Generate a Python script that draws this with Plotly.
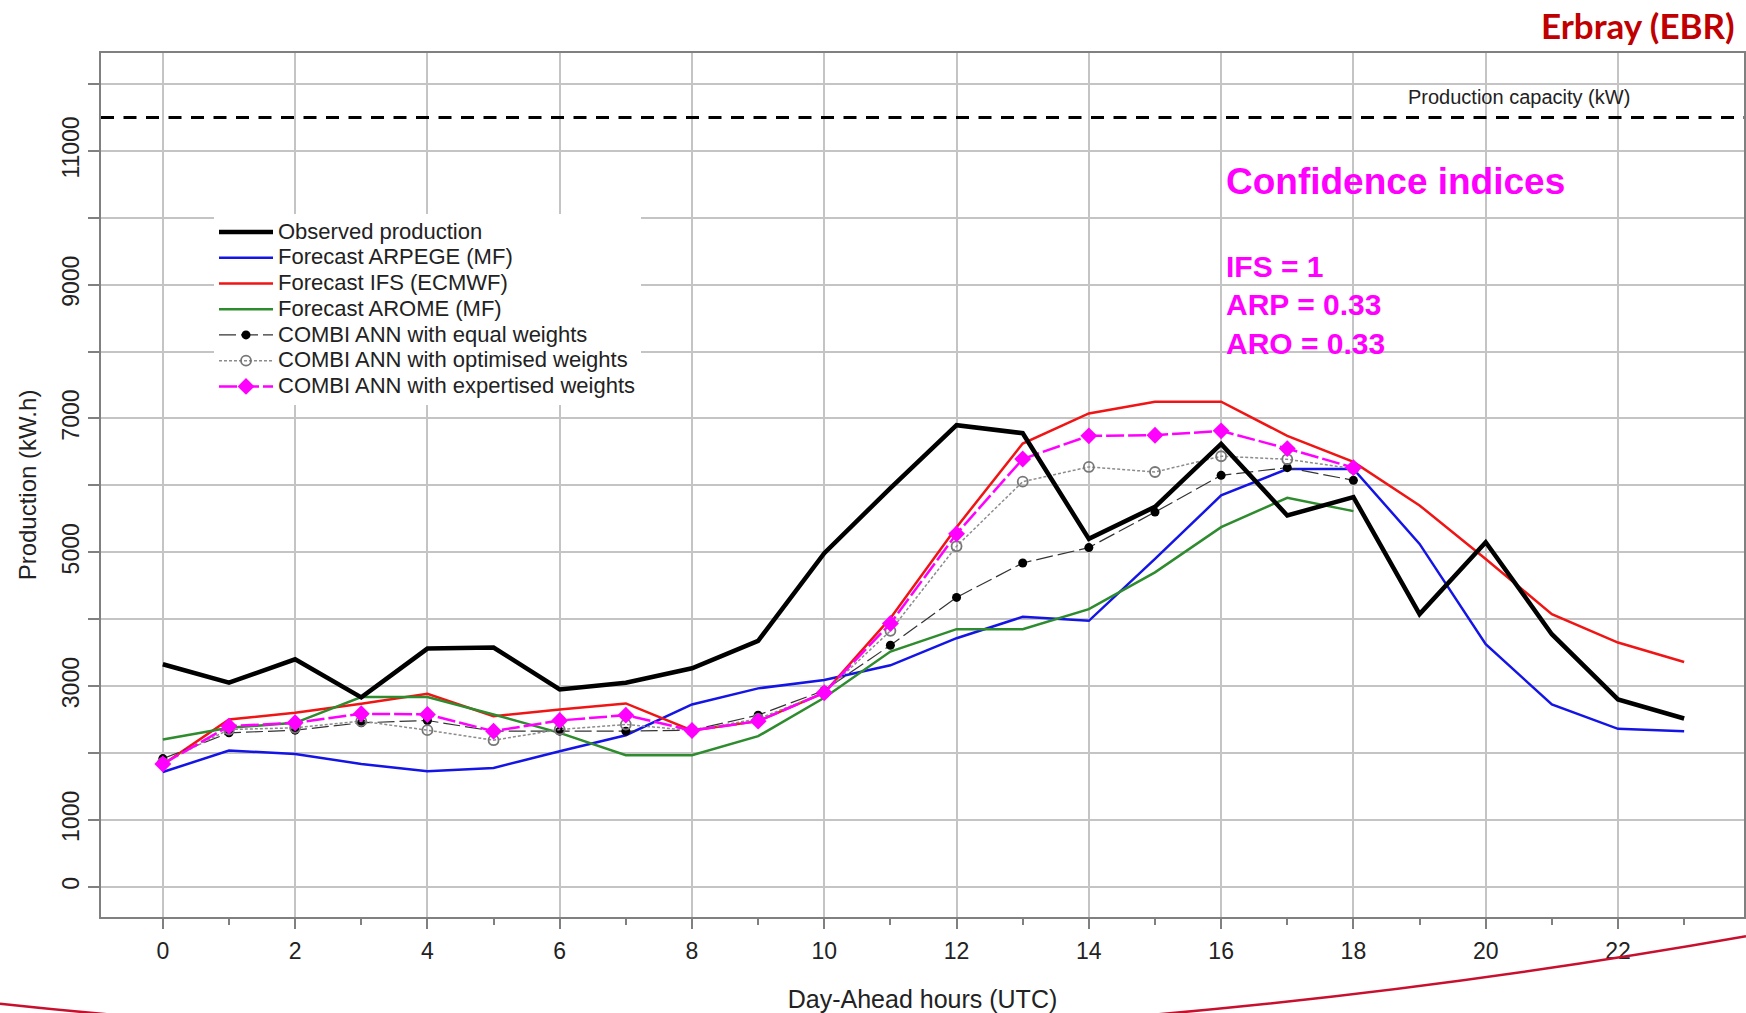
import plotly.graph_objects as go

# ---------------- data ----------------
HOURS = list(range(24))
HOURS_COMBI = list(range(19))

OBSERVED = [3325, 3050, 3400, 2830, 3560, 3575, 2950, 3050, 3265, 3675, 4985, 5960,
            6900, 6780, 5200, 5680, 6620, 5550, 5825, 4075, 5150, 3775, 2800, 2515]
ARPEGE = [1715, 2035, 1985, 1835, 1725, 1775, 2025, 2265, 2725, 2965, 3090, 3310,
          3715, 4035, 3975, 4900, 5850, 6245, 6245, 5125, 3625, 2725, 2360, 2325]
IFS = [1825, 2500, 2600, 2735, 2885, 2550, 2650, 2740, 2335, 2475, 2900, 4015,
       5375, 6625, 7075, 7250, 7250, 6740, 6350, 5700, 4900, 4075, 3650, 3360]
AROME = [2200, 2375, 2450, 2835, 2835, 2575, 2300, 1965, 1965, 2250, 2825, 3515,
         3850, 3850, 4150, 4700, 5375, 5815, 5615]
COMBI_EQUAL = [1915, 2300, 2340, 2450, 2485, 2325, 2325, 2325, 2340, 2565, 2935, 3610,
               4325, 4840, 5070, 5600, 6150, 6265, 6075]
COMBI_OPT = [1850, 2350, 2375, 2475, 2340, 2190, 2350, 2425, 2335, 2510, 2900, 3825,
             5090, 6055, 6275, 6200, 6435, 6390, 6250]
COMBI_EXP = [1835, 2400, 2450, 2585, 2575, 2325, 2485, 2565, 2335, 2475, 2900, 3935,
             5275, 6395, 6740, 6750, 6815, 6550, 6265]
CAPACITY = 11500

X_TICKS = list(range(0, 23, 2))
Y_TICKS = list(range(0, 13000, 1000))
Y_TICK_LABELS = ['0', '1000', '', '3000', '', '5000', '', '7000', '', '9000', '', '11000', '']

SERIES_NAMES = ['Observed production', 'Forecast ARPEGE (MF)', 'Forecast IFS (ECMWF)',
                'Forecast AROME (MF)', 'COMBI ANN with equal weights',
                'COMBI ANN with optimised weights', 'COMBI ANN with expertised weights']
INDICES = ['IFS = 1', 'ARP = 0.33', 'ARO = 0.33']

# ---------------- layout constants ----------------
FONT = 'Liberation Sans, Arial, sans-serif'
W, H = 1746, 1013
ML, MR, MT, MB = 101, 2, 53, 96
PW, PH = W - ML - MR, H - MT - MB


def px(xp):
    return (xp - ML) / PW


def py(yp):
    return (H - MB - yp) / PH


def lname(s):
    return '<span style="font-size:22px">' + s + '</span>'


fig = go.Figure()

fig.add_trace(go.Scatter(x=HOURS, y=ARPEGE, mode='lines', name=lname(SERIES_NAMES[1]),
                         line=dict(color='#1414E6', width=2.5), legendrank=2))
fig.add_trace(go.Scatter(x=HOURS, y=IFS, mode='lines', name=lname(SERIES_NAMES[2]),
                         line=dict(color='#F01414', width=2.5), legendrank=3))
fig.add_trace(go.Scatter(x=HOURS_COMBI, y=AROME, mode='lines', name=lname(SERIES_NAMES[3]),
                         line=dict(color='#2E8B2E', width=2.5), legendrank=4))
fig.add_trace(go.Scatter(x=HOURS_COMBI, y=COMBI_EQUAL, mode='lines+markers',
                         name=lname(SERIES_NAMES[4]),
                         line=dict(color='#333333', width=1.2, dash='17px,5px'),
                         marker=dict(symbol='circle', size=9, color='black'), legendrank=5))
fig.add_trace(go.Scatter(x=HOURS_COMBI, y=COMBI_OPT, mode='lines+markers',
                         name=lname(SERIES_NAMES[5]),
                         line=dict(color='#8C8C8C', width=1.5, dash='3px,2px'),
                         marker=dict(symbol='circle-open', size=10, color='#777777',
                                     line=dict(width=1.8)), legendrank=6))
fig.add_trace(go.Scatter(x=HOURS_COMBI, y=COMBI_EXP, mode='lines+markers',
                         name=lname(SERIES_NAMES[6]),
                         line=dict(color='#FF00FF', width=2.5, dash='18px,4px'),
                         marker=dict(symbol='diamond', size=13, color='#FF00FF'), legendrank=7))
fig.add_trace(go.Scatter(x=HOURS, y=OBSERVED, mode='lines', name=lname(SERIES_NAMES[0]),
                         line=dict(color='black', width=4.5), legendrank=1))

# production capacity line
fig.add_shape(type='line', xref='paper', x0=0, x1=1, yref='y', y0=CAPACITY, y1=CAPACITY,
              line=dict(color='black', width=3, dash='13px,9.5px'), layer='above')

annotations = [
    dict(text='Production capacity (kW)', x=20.5, y=CAPACITY + 300, xref='x', yref='y',
         showarrow=False, xanchor='center', yanchor='middle',
         font=dict(family=FONT, size=20, color='#222222')),
    dict(text='<b>Confidence indices</b>', x=16.05, y=10545, xref='x', yref='y',
         showarrow=False, xanchor='left', yanchor='middle',
         font=dict(family=FONT, size=37, color='#FF00FF')),
    dict(text='<b>Erbray (EBR)</b>', x=px(1737), y=py(25), xref='paper', yref='paper',
         showarrow=False, xanchor='right', yanchor='middle',
         font=dict(family='Lato, Open Sans, sans-serif', size=35, color='#C00000')),
]
for txt, yv in zip(INDICES, [9265, 8697, 8128]):
    annotations.append(dict(text='<b>' + txt + '</b>', x=16.05, y=yv, xref='x', yref='y',
                            showarrow=False, xanchor='left', yanchor='middle',
                            font=dict(family=FONT, size=30, color='#FF00FF')))

# decorative red arc at the bottom of the slide
P0, P1, P2, P3 = (0, 1003.7), (700, 1079.3), (1296, 1015.5), (1746, 936.3)
path = 'M {} {} C {} {}, {} {}, {} {}'.format(px(P0[0]), py(P0[1]), px(P1[0]), py(P1[1]),
                                              px(P2[0]), py(P2[1]), px(P3[0]), py(P3[1]))
fig.add_shape(type='path', path=path, xref='paper', yref='paper',
              line=dict(color='#C8102E', width=2.5), layer='above')

GRID = '#C4C4C4'
FRAME = '#808080'

fig.update_layout(
    width=W, height=H,
    margin=dict(l=ML, r=MR, t=MT, b=MB, pad=0, autoexpand=False),
    paper_bgcolor='white', plot_bgcolor='white',
    font=dict(family=FONT, color='#222222'),
    showlegend=True,
    legend=dict(x=px(214), y=py(214), xanchor='left', yanchor='top',
                bgcolor='white', borderwidth=0, itemwidth=54,
                font=dict(family=FONT, size=17.5, color='#222222'),
                tracegroupgap=0),
    annotations=annotations,
    xaxis=dict(range=[-0.935, 23.905], tickmode='array', tickvals=X_TICKS,
               ticks='outside', ticklen=10, tickcolor=FRAME, tickwidth=1.5,
               showgrid=True, gridcolor=GRID, gridwidth=2, zeroline=False,
               showline=True, linecolor=FRAME, linewidth=2, mirror=True,
               automargin=False,
               tickfont=dict(family=FONT, size=23, color='#222222'),
               ticklabelstandoff=2,
               minor=dict(dtick=1, tick0=0, ticks='outside', ticklen=6, tickcolor=FRAME,
                          showgrid=False),
               title=dict(text='Day-Ahead hours (UTC)', standoff=30,
                          font=dict(family=FONT, size=25, color='#222222'))),
    yaxis=dict(range=[-453, 12464], tickmode='array', tickvals=Y_TICKS, ticktext=Y_TICK_LABELS,
               ticks='outside', ticklen=11, tickcolor=FRAME, tickwidth=1.5, tickangle=-90,
               showgrid=True, gridcolor=GRID, gridwidth=2, zeroline=False,
               showline=True, linecolor=FRAME, linewidth=2, mirror=True,
               automargin=False,
               tickfont=dict(family=FONT, size=23, color='#222222'),
               title=dict(text='Production (kW.h)', standoff=14,
                          font=dict(family=FONT, size=24, color='#222222'))),
)

fig.write_html('out.html')
